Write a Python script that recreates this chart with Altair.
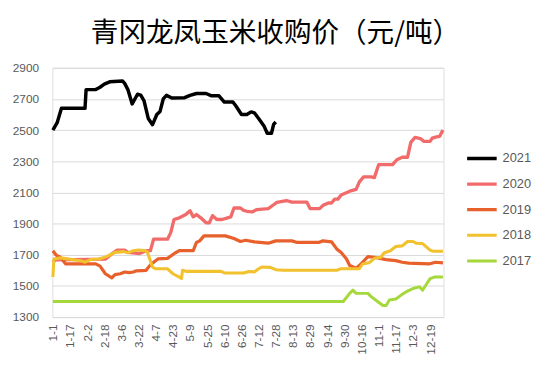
import altair as alt
import pandas as pd
from datetime import date

title_text = "青冈龙凤玉米收购价（元/吨）"
years = ["2021", "2020", "2019", "2018", "2017"]
colors = ["#000000", "#F26B6B", "#E8602C", "#F2C12E", "#A5D83A"]
widths = [3.5, 3.0, 2.5, 2.5, 2.5]

tick_labels = ["1-1", "1-17", "2-2", "2-18", "3-6", "3-22", "4-7", "4-23", "5-9",
               "5-25", "6-10", "6-26", "7-12", "7-28", "8-13", "8-29", "9-14",
               "9-30", "10-16", "11-1", "11-17", "12-3", "12-19"]
y_ticks = [1300, 1500, 1700, 1900, 2100, 2300, 2500, 2700, 2900]

dates_2021 = ["1-1", "1-5", "1-9", "1-31", "2-1", "2-10", "2-14", "2-18", "2-23", "3-7",
              "3-9", "3-12", "3-16", "3-21", "3-24", "3-27", "3-31", "4-4", "4-8", "4-11",
              "4-14", "4-17", "4-22", "5-4", "5-9", "5-15", "5-24", "5-29", "6-5", "6-10",
              "6-18", "6-21", "6-26", "7-1", "7-5", "7-8", "7-12", "7-17", "7-20", "7-24",
              "7-26", "7-28"]
values_2021 = [2500, 2548, 2640, 2640, 2760, 2760, 2775, 2795, 2810, 2815,
               2800, 2760, 2668, 2730, 2725, 2690, 2575, 2535, 2600, 2620,
               2700, 2723, 2706, 2708, 2723, 2735, 2735, 2720, 2720, 2680,
               2680, 2653, 2600, 2600, 2617, 2611, 2575, 2527, 2480, 2480,
               2537, 2552]

dates_2020 = ["1-1", "1-4", "2-19", "2-25", "3-2", "3-9", "3-12", "3-23", "3-29", "4-2",
              "4-5", "4-18", "4-21", "4-24", "4-29", "5-5", "5-9", "5-12", "5-15", "5-19",
              "5-24", "5-27", "5-30", "6-3", "6-8", "6-13", "6-16", "6-19", "6-25", "6-28",
              "7-1", "7-6", "7-10", "7-21", "7-26", "7-29", "8-7", "8-12", "8-26", "8-29",
              "9-7", "9-10", "9-15", "9-18", "9-21", "9-24", "9-27", "10-5", "10-11", "10-14",
              "10-18", "10-25", "10-28", "11-1", "11-14", "11-18", "11-23", "11-28", "12-1", "12-5",
              "12-10", "12-13", "12-19", "12-21", "12-25", "12-28", "12-31"]
values_2020 = [1655, 1667, 1672, 1705, 1730, 1730, 1715, 1708, 1726, 1726,
               1800, 1800, 1842, 1926, 1937, 1958, 1983, 1943, 1958, 1937,
               1905, 1905, 1951, 1926, 1926, 1937, 1943, 2000, 2000, 1985,
               1979, 1975, 1989, 1996, 2021, 2036, 2048, 2038, 2038, 1996,
               1996, 2017, 2032, 2032, 2057, 2057, 2084, 2108, 2120, 2168,
               2200, 2200, 2195, 2278, 2278, 2310, 2326, 2326, 2421, 2453,
               2446, 2428, 2428, 2449, 2457, 2460, 2500]

dates_2019 = ["1-1", "1-4", "1-8", "1-13", "2-10", "2-14", "2-19", "2-25", "2-28", "3-5",
              "3-9", "3-13", "3-17", "3-20", "3-29", "4-1", "4-5", "4-9", "4-18", "4-25",
              "4-29", "5-12", "5-15", "5-18", "5-22", "6-11", "6-19", "6-25", "6-30", "7-8",
              "7-21", "7-28", "8-12", "8-17", "9-6", "9-10", "9-18", "9-23", "9-27", "10-2",
              "10-5", "10-11", "10-14", "10-22", "10-28", "11-8", "11-17", "11-23", "11-29", "12-18",
              "12-24", "12-31"]
values_2019 = [1726, 1698, 1684, 1641, 1641, 1627, 1578, 1551, 1572, 1578,
               1589, 1585, 1589, 1597, 1600, 1627, 1652, 1673, 1677, 1711,
               1726, 1726, 1779, 1789, 1821, 1821, 1804, 1785, 1793, 1783,
               1774, 1789, 1789, 1779, 1779, 1789, 1783, 1736, 1715, 1673,
               1631, 1614, 1631, 1688, 1684, 1669, 1662, 1652, 1646, 1641,
               1652, 1648]

dates_2018 = ["1-1", "1-2", "1-8", "1-27", "1-31", "2-5", "2-13", "2-20", "2-28", "3-8",
              "3-12", "3-17", "3-22", "3-28", "3-30", "4-1", "4-4", "4-7", "4-18", "4-23",
              "4-29", "5-1", "5-2", "5-6", "6-7", "6-10", "6-28", "7-3", "7-8", "7-12",
              "7-15", "7-23", "7-28", "8-4", "9-23", "9-26", "10-14", "10-17", "10-23", "10-28",
              "11-3", "11-6", "11-12", "11-17", "11-23", "11-28", "12-3", "12-6", "12-12", "12-16",
              "12-19", "12-22", "12-31"]
values_2018 = [1557, 1673, 1680, 1662, 1652, 1669, 1673, 1688, 1715, 1720,
               1712, 1726, 1730, 1726, 1720, 1680, 1620, 1610, 1610, 1578,
               1557, 1547, 1600, 1593, 1593, 1583, 1583, 1593, 1590, 1610,
               1621, 1619, 1604, 1600, 1600, 1610, 1610, 1641, 1648, 1677,
               1684, 1711, 1726, 1753, 1757, 1785, 1785, 1774, 1772, 1747,
               1730, 1722, 1722]

dates_2017 = ["1-1", "9-29", "10-5", "10-8", "10-11", "10-22", "10-25", "10-31", "11-5", "11-8",
              "11-11", "11-17", "11-22", "11-28", "12-3", "12-9", "12-12", "12-15", "12-19", "12-23",
              "12-31"]
values_2017 = [1400, 1400, 1452, 1473, 1452, 1452, 1431, 1400, 1374, 1374,
               1410, 1416, 1441, 1467, 1483, 1494, 1473, 1504, 1547, 1557,
               1557]


def day_index(md):
    m, d = map(int, md.split("-"))
    return date(2021, m, d).timetuple().tm_yday - 1


series = {
    "2021": (dates_2021, values_2021),
    "2020": (dates_2020, values_2020),
    "2019": (dates_2019, values_2019),
    "2018": (dates_2018, values_2018),
    "2017": (dates_2017, values_2017),
}

rows = []
for yr, (ds, vs) in series.items():
    for d, v in zip(ds, vs):
        rows.append({"year": yr, "day": day_index(d), "date": d, "value": v})
df = pd.DataFrame(rows)

tick_days = [day_index(t) for t in tick_labels]
label_expr = "[" + ",".join("'" + t + "'" for t in tick_labels) + "][round(datum.value/16)]"

font = "Liberation Sans"
grey = "#595959"

chart = alt.Chart(df).mark_line(strokeJoin="round").encode(
    x=alt.X("day:Q",
            scale=alt.Scale(domain=[-0.5, 364.5], nice=False, zero=False),
            axis=alt.Axis(values=tick_days, labelExpr=label_expr, labelAngle=-90,
                          title=None, grid=False, ticks=False, domainColor="#D9D9D9",
                          labelColor=grey, labelFontSize=12, labelFont=font,
                          labelPadding=7, labelOverlap=False)),
    y=alt.Y("value:Q",
            scale=alt.Scale(domain=[1300, 2900], nice=False, zero=False),
            axis=alt.Axis(values=y_ticks, format="d", title=None, domain=False, ticks=False,
                          gridColor="#D9D9D9", gridWidth=1, labelColor=grey,
                          labelFontSize=12, labelFont=font, labelPadding=14)),
    color=alt.Color("year:N", sort=years,
                    scale=alt.Scale(domain=years, range=colors),
                    legend=alt.Legend(title=None, orient="none", legendX=419, legendY=84,
                                      symbolType="stroke", symbolSize=900,
                                      symbolStrokeWidth=3, labelFontSize=13,
                                      labelFont=font, labelColor=grey,
                                      rowPadding=10, clipHeight=16, labelOffset=4)),
    strokeWidth=alt.StrokeWidth("year:N", scale=alt.Scale(domain=years, range=widths),
                                legend=None),
    order=alt.Order("day:Q"),
).properties(
    width=397,
    height=253,
    padding={"left": 45, "top": 58, "right": 100, "bottom": 48},
    autosize=alt.AutoSizeParams(type="none"),
    title=alt.TitleParams(title_text, fontSize=28, font="Noto Sans CJK SC",
                          fontWeight="normal", color="#000000", anchor="middle",
                          dx=28, offset=14),
).configure_view(stroke=None).configure(background="#FFFFFF")

chart.save("out.html", embed_options={"renderer": "svg", "actions": False})
